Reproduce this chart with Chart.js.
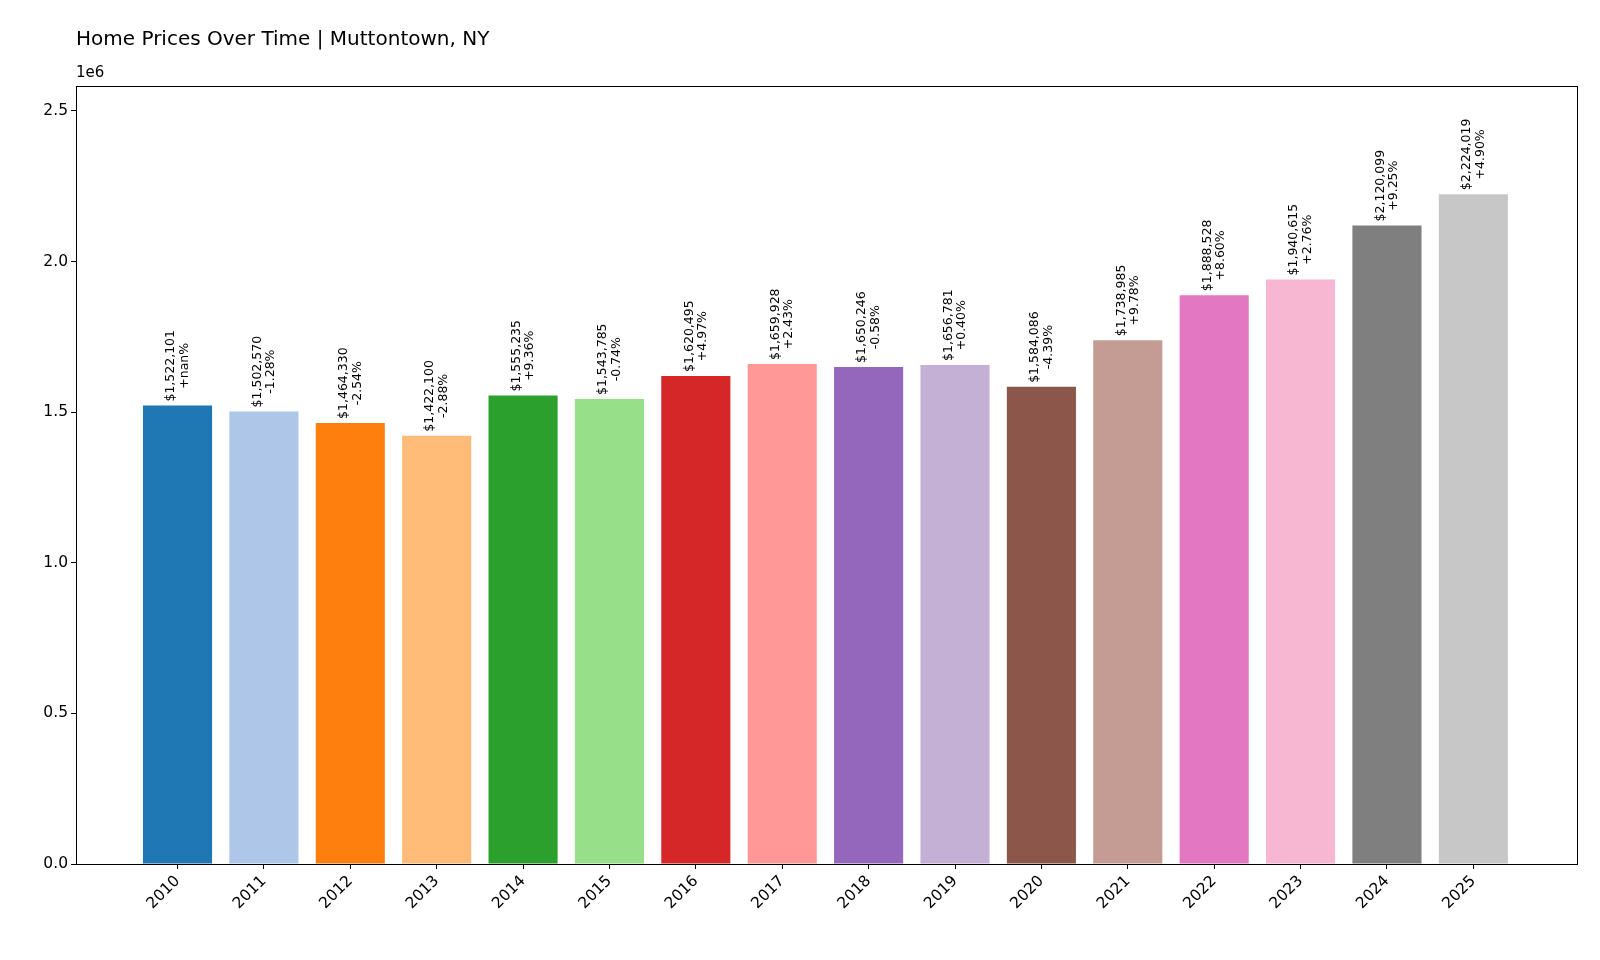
<!DOCTYPE html>
<html><head><meta charset="utf-8">
<script src="https://cdn.jsdelivr.net/npm/chart.js@4"></script>
<style>html,body{margin:0;background:#fff}#w{width:1600px;height:960px}</style>
</head><body><div id="w"><canvas id="c"></canvas></div>
<script>
const years = [2010,2011,2012,2013,2014,2015,2016,2017,2018,2019,2020,2021,2022,2023,2024,2025];
const prices = [1522101,1502570,1464330,1422100,1555235,1543785,1620495,1659928,1650246,1656781,1584086,1738985,1888528,1940615,2120099,2224019];
const changes = ['+nan%','-1.28%','-2.54%','-2.88%','+9.36%','-0.74%','+4.97%','+2.43%','-0.58%','+0.40%','-4.39%','+9.78%','+8.60%','+2.76%','+9.25%','+4.90%'];
const colors = ['#1f77b4','#aec7e8','#ff7f0e','#ffbb78','#2ca02c','#98df8a','#d62728','#ff9896','#9467bd','#c5b0d5','#8c564b','#c49c94','#e377c2','#f7b6d2','#7f7f7f','#c7c7c7'];
const yTicks = [0,500000,1000000,1500000,2000000,2500000];
const F = 'DejaVu Sans';
const deco = {
  id:'deco',
  afterDraw(ch){
    const c=ch.ctx, a=ch.chartArea, x=ch.scales.x, y=ch.scales.y;
    c.save();
    c.strokeStyle='#000'; c.lineWidth=1;
    c.strokeRect(a.left+0.5,a.top+0.5,a.right-a.left,a.bottom-a.top);
    c.fillStyle='#000';
    c.font='20px '+F; c.textAlign='left'; c.textBaseline='alphabetic';
    c.fillText('Home Prices Over Time | Muttontown, NY',76,45);
    c.font='15px '+F; c.fillText('1e6',76,77);
    c.font='12.5px '+F;
    years.forEach((yr,i)=>{
      const px=x.getPixelForValue(yr), py=y.getPixelForValue(prices[i]);
      const l1='$'+prices[i].toLocaleString('en-US');
      const w1=c.measureText(l1).width;
      c.save(); c.translate(px,py-4-w1/2); c.rotate(-Math.PI/2);
      c.textAlign='center'; c.textBaseline='middle';
      c.fillText(l1,0,-6.5); c.fillText(changes[i],0,7);
      c.restore();
    });
    c.restore();
  }
};
new Chart(document.getElementById('c'),{
  type:'bar',
  data:{datasets:[{data:years.map((yr,i)=>({x:yr,y:prices[i]})),backgroundColor:colors,barPercentage:0.8,categoryPercentage:1}]},
  options:{responsive:true,maintainAspectRatio:false,animation:false,
    layout:{padding:{top:86,right:23,left:0,bottom:0}},
    plugins:{legend:{display:false},tooltip:{enabled:false}},
    scales:{
      x:{type:'linear',min:2008.825,max:2026.2,offset:false,
        afterBuildTicks(s){s.ticks=years.map(v=>({value:v}));},
        afterFit(s){s.height=96;},
        grid:{offset:false,drawOnChartArea:false,tickLength:5,color:'#000'},border:{color:'#000'},
        ticks:{minRotation:45,maxRotation:45,color:'#000',font:{family:F,size:15.5},callback:v=>String(v)}},
      y:{min:0,max:2583000,
        afterBuildTicks(s){s.ticks=yTicks.map(v=>({value:v}));},
        afterFit(s){s.width=76;},
        grid:{drawOnChartArea:false,tickLength:5,color:'#000'},border:{color:'#000'},
        ticks:{color:'#000',font:{family:F,size:15.5},callback:v=>(v/1e6).toFixed(1)}}
    }},
  plugins:[deco]
});
</script></body></html>
